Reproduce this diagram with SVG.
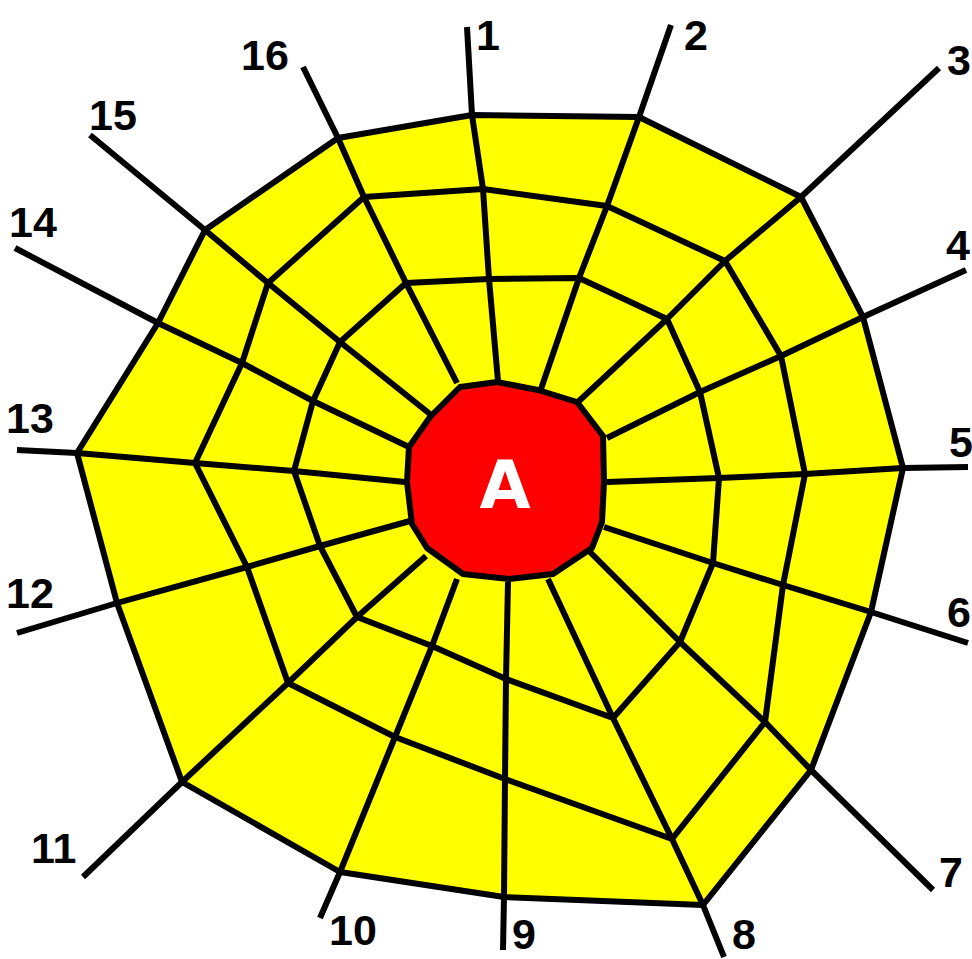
<svg xmlns="http://www.w3.org/2000/svg" width="972" height="959" viewBox="0 0 972 959">
<style>
.ln{fill:none;stroke:#000;stroke-width:6;stroke-linejoin:round;stroke-linecap:butt}
.lbl{font-family:"Liberation Sans",Arial,sans-serif;font-weight:bold;font-size:43px;fill:#000}
.hubtxt{font-family:"DejaVu Sans","Liberation Sans",sans-serif;font-weight:bold;font-size:66px;fill:#fff;text-anchor:middle}
</style>
<rect width="972" height="959" fill="#fff"/>
<g id="web">
<polygon points="472,115 639,117 801,197 863,317 903,468 871,612 811,770 703,905 504,897 340,872 182,782 117,603 77,453 158,323 205,230 338,138" fill="#ffff00" stroke="#000" stroke-width="6" stroke-linejoin="round"/>
</g>
<g id="connectors">
<polygon class="ln" points="483,189 607,206 725,261 781,356 805,474 783,585 765,722 672,839 505,779 395,737 288,683 247,567 195,463 242,363 268,283 364,197"/>
<polygon class="ln" points="489,279 579,278 667,319 700,392 719,478 713,563 680,642 613,718 506,679 432,646 357,617 320,546 294,471 313,401 340,342 406,283"/>
<polyline class="ln" points="467,27 472,115 483,189 489,279 498,381"/>
<polyline class="ln" points="671,25 639,117 607,206 579,278 541,389"/>
<polyline class="ln" points="939,68 801,197 725,261 667,319 579,401"/>
<polyline class="ln" points="966,270 863,317 781,356 700,392 607,438"/>
<polyline class="ln" points="968,467 903,468 805,474 719,478 607,482"/>
<polyline class="ln" points="968,643 871,612 783,585 713,563 604,527"/>
<polyline class="ln" points="933,890 811,770 765,722 680,642 590,552"/>
<polyline class="ln" points="724,957 703,905 672,839 613,718 548,579"/>
<polyline class="ln" points="503,950 504,897 505,779 506,679 508,582"/>
<polyline class="ln" points="320,918 340,872 395,737 432,646 457,579"/>
<polyline class="ln" points="83,877 182,782 288,683 357,617 426,556"/>
<polyline class="ln" points="17,633 117,603 247,567 320,546 410,521"/>
<polyline class="ln" points="17,450 77,453 195,463 294,471 405,482"/>
<polyline class="ln" points="15,248 158,323 242,363 313,401 409,447"/>
<polyline class="ln" points="90,135 205,230 268,283 340,342 430,414"/>
<polyline class="ln" points="303,67 338,138 364,197 406,283 457,383"/>
</g>
<g id="hub">
<polygon points="460,387 497,382 538,390 577,402 603,436 604,482 602,522 592,548 553,574 509,579 463,574 427,548 412,524 407,482 409,447 430,417" fill="#ff0000" stroke="#000" stroke-width="6" stroke-linejoin="round"/>
<text class="hubtxt" x="505" y="508">A</text>
</g>
<g id="labels">
<text id="label-1" class="lbl" x="476" y="50">1</text>
<text id="label-2" class="lbl" x="684" y="50">2</text>
<text id="label-3" class="lbl" x="947" y="75">3</text>
<text id="label-4" class="lbl" x="946" y="260">4</text>
<text id="label-5" class="lbl" x="949" y="457">5</text>
<text id="label-6" class="lbl" x="947" y="627">6</text>
<text id="label-7" class="lbl" x="939" y="887">7</text>
<text id="label-8" class="lbl" x="732" y="949">8</text>
<text id="label-9" class="lbl" x="512" y="949">9</text>
<text id="label-10" class="lbl" x="329" y="945">10</text>
<text id="label-11" class="lbl" x="31" y="863">11</text>
<text id="label-12" class="lbl" x="6" y="608">12</text>
<text id="label-13" class="lbl" x="6" y="433">13</text>
<text id="label-14" class="lbl" x="9" y="237">14</text>
<text id="label-15" class="lbl" x="89" y="130">15</text>
<text id="label-16" class="lbl" x="241" y="70">16</text>
</g>
</svg>
